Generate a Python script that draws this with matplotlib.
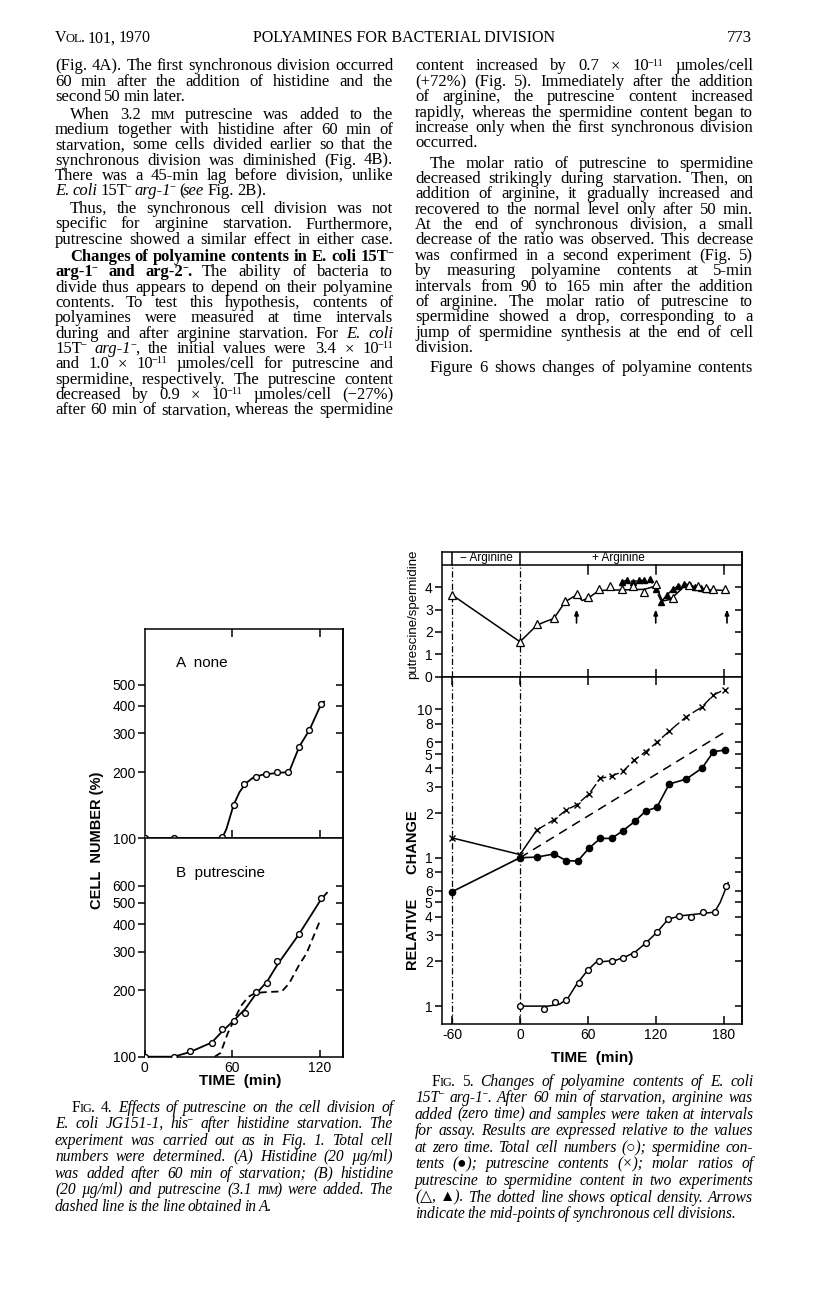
import matplotlib
matplotlib.use("Agg")
import matplotlib.pyplot as plt
from matplotlib.ticker import NullLocator

plt.rcParams['font.family'] = ['Liberation Sans', 'DejaVu Sans']
plt.rcParams['axes.linewidth'] = 1.1
plt.rcParams['lines.linewidth'] = 1.0

SERIF = ['Liberation Serif', 'DejaVu Sans']

# ---------------- Fig. 4 data (cell number, %) ----------------
f4a_t = [0, 20, 37, 53, 61, 68, 76, 83, 91, 98, 106, 113, 121]
f4a_n = [100, 100, 95, 101, 142, 177, 190, 195, 200, 200, 261, 311, 407]
f4a_curve_t = [0, 53, 56, 61, 65, 69, 74, 80, 90, 99, 106, 113, 121, 123]
f4a_curve_n = [100, 100, 110, 142, 162, 177, 188, 194, 198, 200, 261, 311, 407, 418]

f4b_t = [0, 20, 31, 46, 53, 61, 69, 76, 84, 91, 106, 121]
f4b_n = [100, 100, 106, 116, 134, 145, 158, 197, 217, 273, 360, 526]
f4b_curve_t = [0, 20, 31, 46, 53, 61, 69, 76, 84, 91, 106, 121, 125]
f4b_curve_n = [100, 100, 105, 116, 130, 146, 165, 192, 220, 262, 362, 520, 556]
f4b_dash_t = [48, 52, 57, 62, 66, 71, 76, 85, 94, 99, 106, 111, 120]
f4b_dash_n = [100, 104, 128, 150, 170, 187, 195, 197, 198, 215, 262, 295, 412]

# ---------------- Fig. 5 data ----------------
ratio1_t = [-60, 0, 15, 30, 40, 50, 60, 70, 80, 90, 100, 110, 120, 135, 149, 157, 164, 171, 181]
ratio1_v = [3.65, 1.56, 2.35, 2.6, 3.4, 3.69, 3.54, 3.9, 4.06, 3.9, 4.06, 3.8, 4.15, 3.5, 4.09, 4.03, 3.97, 3.92, 3.9]
ratio1_curve_t = [-60, 0, 15, 22, 30, 40, 50, 55, 60, 70, 110, 120, 126, 133, 145, 160, 181]
ratio1_curve_v = [3.65, 1.56, 2.3, 2.45, 2.6, 3.35, 3.65, 3.4, 3.5, 3.85, 3.9, 4.05, 3.38, 3.45, 4.02, 3.9, 3.85]
ratio2_t = [90, 95, 100, 105, 110, 115, 120, 125, 130, 135, 140, 145, 150, 155, 160, 165]
ratio2_v = [4.25, 4.3, 4.25, 4.3, 4.3, 4.35, 3.9, 3.35, 3.65, 3.9, 4.05, 4.15, 4.1, 4.0, 3.95, 3.9]
arrow_t = [50, 120, 183]

putr_t = [-60, 0, 15, 30, 41, 50, 61, 71, 81, 91, 101, 111, 121, 132, 147, 161, 171, 181]
putr_v = [1.36, 1.05, 1.54, 1.8, 2.1, 2.27, 2.69, 3.43, 3.55, 3.82, 4.55, 5.18, 5.99, 7.14, 8.91, 10.4, 12.5, 13.6]
sperm_t = [-60, 0, 15, 30, 41, 51, 61, 71, 81, 91, 102, 111, 121, 132, 147, 161, 171, 181]
sperm_v = [0.59, 1.0, 1.01, 1.06, 0.955, 0.95, 1.16, 1.35, 1.35, 1.52, 1.77, 2.06, 2.19, 3.14, 3.39, 4.02, 5.18, 5.32]
od_t = [0, 184]
od_v = [1.0, 7.25]
cells_t = [0, 21, 31, 41, 52, 60, 70, 81, 91, 101, 111, 121, 131, 141, 151, 162, 172, 182]
cells_v = [0.1, 0.095, 0.107, 0.11, 0.144, 0.175, 0.2, 0.2, 0.212, 0.224, 0.265, 0.314, 0.385, 0.407, 0.397, 0.431, 0.431, 0.648]
cells_curve_t = [0, 25, 35, 42, 50, 60, 67, 75, 85, 95, 102, 111, 121, 131, 141, 172, 177, 184]
cells_curve_v = [0.1, 0.1, 0.103, 0.112, 0.14, 0.175, 0.197, 0.2, 0.204, 0.218, 0.232, 0.265, 0.314, 0.385, 0.405, 0.43, 0.5, 0.68]

rel_ticks = [0.1, 0.2, 0.3, 0.4, 0.5, 0.6, 0.8, 1, 2, 3, 4, 5, 6, 8, 10]
rel_labels = ['1', '2', '3', '4', '5', '6', '8', '1', '2', '3', '4', '5', '6', '8', '10']

# ---------------- page text ----------------
# markup: _italic_  *bold*  ~small caps~  ^superscript^
left_lines = [
    "(Fig. 4A). The first synchronous division occurred",
    "60 min after the addition of histidine and the",
    "second 50 min later.",
    "When 3.2 m~M~ putrescine was added to the",
    "medium together with histidine after 60 min of",
    "starvation, some cells divided earlier so that the",
    "synchronous division was diminished (Fig. 4B).",
    "There was a 45-min lag before division, unlike",
    "_E. coli_ 15T^−^ _arg-1_^−^ (_see_ Fig. 2B).",
    "Thus, the synchronous cell division was not",
    "specific for arginine starvation. Furthermore,",
    "putrescine showed a similar effect in either case.",
    "*Changes of polyamine contents in E. coli 15T^−^*",
    "*arg-1^−^ and arg-2^−^.* The ability of bacteria to",
    "divide thus appears to depend on their polyamine",
    "contents. To test this hypothesis, contents of",
    "polyamines were measured at time intervals",
    "during and after arginine starvation. For _E. coli_",
    "15T^−^ _arg-1_^−^, the initial values were 3.4 × 10^−11^",
    "and 1.0 × 10^−11^ µmoles/cell for putrescine and",
    "spermidine, respectively. The putrescine content",
    "decreased by 0.9 × 10^−11^ µmoles/cell (−27%)",
    "after 60 min of starvation, whereas the spermidine",
]
left_y = [66, 81.4, 96.7, 114.1, 129.5, 144.8, 160.2, 175.5, 190.9, 208.3, 223.7, 239.0,
          256.4, 271.8, 287.1, 302.5, 317.8, 333.2, 348.6, 363.9, 379.3, 394.6, 410.0]
left_indent = {3, 9, 12}
left_ragged = {2, 8}

right_lines = [
    "content increased by 0.7 × 10^−11^ µmoles/cell",
    "(+72%) (Fig. 5). Immediately after the addition",
    "of arginine, the putrescine content increased",
    "rapidly, whereas the spermidine content began to",
    "increase only when the first synchronous division",
    "occurred.",
    "The molar ratio of putrescine to spermidine",
    "decreased strikingly during starvation. Then, on",
    "addition of arginine, it gradually increased and",
    "recovered to the normal level only after 50 min.",
    "At the end of synchronous division, a small",
    "decrease of the ratio was observed. This decrease",
    "was confirmed in a second experiment (Fig. 5)",
    "by measuring polyamine contents at 5-min",
    "intervals from 90 to 165 min after the addition",
    "of arginine. The molar ratio of putrescine to",
    "spermidine showed a drop, corresponding to a",
    "jump of spermidine synthesis at the end of cell",
    "division.",
    "Figure 6 shows changes of polyamine contents",
]
right_y = [66, 81.4, 96.7, 112.1, 127.4, 142.8, 163.2, 178.6, 193.9, 209.3, 224.6, 240.0,
           255.4, 270.7, 286.1, 301.4, 316.8, 332.2, 347.5, 368.0]
right_indent = {6, 19}
right_ragged = {5, 18}

cap4_lines = [
    "_F~IG~. 4._ Effects of putrescine on the cell division of",
    "E. coli JG151-1, his^−^ after histidine starvation. The",
    "experiment was carried out as in Fig. 1. Total cell",
    "numbers were determined. (A) Histidine (20 µg/ml)",
    "was added after 60 min of starvation; (B) histidine",
    "(20 µg/ml) and putrescine (3.1 m~M~) were added. The",
    "dashed line is the line obtained in A.",
]
cap4_y = [1107, 1123.6, 1140.2, 1156.8, 1173.4, 1190, 1206.6]

cap5_lines = [
    "_F~IG~. 5._ Changes of polyamine contents of E. coli",
    "15T^−^ arg-1^−^. After 60 min of starvation, arginine was",
    "added (zero time) and samples were taken at intervals",
    "for assay. Results are expressed relative to the values",
    "at zero time. Total cell numbers (○); spermidine con-",
    "tents (●); putrescine contents (×); molar ratios of",
    "putrescine to spermidine content in two experiments",
    "(△, ▲). The dotted line shows optical density. Arrows",
    "indicate the mid-points of synchronous cell divisions.",
]
cap5_y = [1081, 1097.6, 1114.2, 1130.8, 1147.4, 1164, 1180.6, 1197.2, 1213.8]

W, H = 816, 1302
fig = plt.figure(figsize=(W / 100, H / 100), dpi=100)
page = fig.add_axes([0, 0, 1, 1])
page.set_xlim(0, W)
page.set_ylim(H, 0)
page.axis('off')
renderer = fig.canvas.get_renderer()


def parse(line, italic=False):
    words, cur, buf = [], [], ''
    st = {'_': italic, '*': False, '~': False, '^': False}
    for ch in line:
        if ch in ' _*~^':
            if buf:
                cur.append((buf, st['_'], st['*'], st['~'], st['^']))
                buf = ''
            if ch == ' ':
                if cur:
                    words.append(cur)
                cur = []
            else:
                st[ch] = not st[ch]
        else:
            buf += ch
    if buf:
        cur.append((buf, st['_'], st['*'], st['~'], st['^']))
    if cur:
        words.append(cur)
    return words


def put_line(x0, x1, y, line, size=12, justify=True, italic=False):
    words = parse(line, italic)
    for attempt in range(8):
        items = []
        for w in words:
            segs = []
            for text, it, bf, sc, sup in w:
                fs = size * (0.78 if sc else 1.0) * (0.62 if sup else 1.0)
                rise = 0.30 * size * 100 / 72 if sup else 0.0
                t = page.text(0, y + 4.5 - rise, text, fontsize=fs,
                              fontstyle='italic' if it else 'normal',
                              fontweight='bold' if bf else 'normal',
                              family=SERIF, va='baseline', ha='left')
                segs.append((t, t.get_window_extent(renderer).width - 1.2))
            items.append(segs)
        widths = [sum(wd for _, wd in s) for s in items]
        space = 0.25 * size * 100 / 72
        total = sum(widths)
        if total + 0.6 * space * (len(items) - 1) <= (x1 - x0) or not justify:
            break
        for s in items:
            for t, _ in s:
                t.remove()
        size *= 0.98
    gap = (x1 - x0 - total) / (len(items) - 1) if justify and len(items) > 1 else space
    x = x0
    for segs in items:
        for t, wd in segs:
            t.set_x(x)
            x += wd
        x += gap


# running head
put_line(55, 200, 38, "V~OL~. 101, 1970", size=11.5, justify=False)
page.text(404, 42.5, "POLYAMINES FOR BACTERIAL DIVISION", fontsize=11.5, family=SERIF,
          ha='center', va='baseline')
page.text(752, 42.5, "773", fontsize=12, family=SERIF, ha='right', va='baseline')

for i, (ln, y) in enumerate(zip(left_lines, left_y)):
    put_line(55 + (15 if i in left_indent else 0), 392, y, ln, justify=i not in left_ragged)
for i, (ln, y) in enumerate(zip(right_lines, right_y)):
    put_line(415 + (15 if i in right_indent else 0), 752, y, ln, justify=i not in right_ragged)
for i, (ln, y) in enumerate(zip(cap4_lines, cap4_y)):
    put_line(72 if i == 0 else 55, 392, y, ln, size=11.2, italic=True,
             justify=i != len(cap4_lines) - 1)
for i, (ln, y) in enumerate(zip(cap5_lines, cap5_y)):
    put_line(432 if i == 0 else 415, 752, y, ln, size=11.2, italic=True,
             justify=i != len(cap5_lines) - 1)


def px_axes(x0, y0, x1, y1):
    return fig.add_axes([x0 / W, 1 - y1 / H, (x1 - x0) / W, (y1 - y0) / H])


def right_ticks(ax, ticks, length=5):
    sec = ax.secondary_yaxis('right')
    sec.set_yticks(ticks)
    sec.yaxis.set_minor_locator(NullLocator())
    sec.tick_params(direction='in', length=length, width=1.1, labelright=False)


# ---------------- Fig. 4 ----------------
open_o = dict(marker='o', ms=4.2, mfc='white', mec='black', mew=1.0, ls='none', zorder=4)

ax4a = px_axes(144.7, 629, 343, 838.3)
ax4a.set_yscale('log')
ax4a.set_xlim(0, 136)
ax4a.set_ylim(100, 894)
ax4a.plot(f4a_curve_t, f4a_curve_n, color='black', lw=1.3)
ax4a.plot(f4a_t, f4a_n, **open_o)
ax4a.set_yticks([100, 200, 300, 400, 500], labels=['100', '200', '300', '400', '500'])
ax4a.yaxis.set_minor_locator(NullLocator())
ax4a.tick_params(axis='y', direction='out', length=5, width=1.1, pad=1.5, labelsize=10)
ax4a.set_xticks([60, 120])
ax4a.tick_params(axis='x', direction='in', top=True, bottom=True, length=6, width=1.1,
                 labelbottom=False)
right_ticks(ax4a, [200, 300, 400, 500])
ax4a.text(176, 663, "A  none", fontsize=11, va='center', transform=page.transData)

ax4b = px_axes(144.7, 838.3, 343, 1056.7)
ax4b.set_yscale('log')
ax4b.set_xlim(0, 136)
ax4b.set_ylim(100, 984)
ax4b.plot(f4b_curve_t, f4b_curve_n, color='black', lw=1.3)
ax4b.plot(f4b_dash_t, f4b_dash_n, color='black', lw=1.3, ls=(0, (4, 2.5)))
ax4b.plot(f4b_t, f4b_n, **open_o)
ax4b.set_yticks([100, 200, 300, 400, 500, 600],
                labels=['100', '200', '300', '400', '500', '600'])
ax4b.yaxis.set_minor_locator(NullLocator())
ax4b.tick_params(axis='y', direction='out', length=5, width=1.1, pad=1.5, labelsize=10)
ax4b.set_xticks([0, 60, 120], labels=['0', '60', '120'])
ax4b.tick_params(axis='x', direction='in', length=5, width=1.1, pad=3, labelsize=10)
right_ticks(ax4b, [200, 300, 400, 500, 600])
ax4b.text(176, 873, "B  putrescine", fontsize=11, va='center', transform=page.transData)

page.text(97, 840, "CELL  NUMBER (%)", fontsize=10.5, fontweight='bold', rotation=90,
          ha='center', va='center')
page.text(240, 1081, "TIME  (min)", fontsize=11, fontweight='bold', ha='center', va='center')

# ---------------- Fig. 5 ----------------
XL = (-69.2, 196.0)
dashdot = (0, (5, 2, 1, 2))

ax5a = px_axes(441.7, 552, 741.7, 676.7)
ax5a.set_xlim(*XL)
ax5a.set_ylim(0, 5.567)
ax5a.axhline(5, color='black', lw=1.1)
for tv in [-60, 0]:
    ax5a.plot([tv, tv], [0, 5], color='black', lw=0.9, ls=dashdot)
    ax5a.plot([tv, tv], [5, 5.567], color='black', lw=1.1)
for tv in [60, 120, 180]:
    ax5a.plot([tv, tv], [5, 4.6], color='black', lw=1.1)
ax5a.text(-30, 5.28, "− Arginine", fontsize=8.5, ha='center', va='center')
ax5a.text(87, 5.28, "+ Arginine", fontsize=8.5, ha='center', va='center')
ax5a.plot(ratio1_curve_t, ratio1_curve_v, color='black', lw=1.1)
ax5a.plot(ratio2_t, ratio2_v, color='black', lw=1.1, ls=(0, (4, 2)))
ax5a.plot(ratio2_t, ratio2_v, marker='^', ms=4.8, color='black', ls='none', zorder=4)
ax5a.plot(ratio1_t, ratio1_v, marker='^', ms=5.5, mfc='white', mec='black', mew=0.9,
          ls='none', zorder=5)
for tv in arrow_t:
    ax5a.annotate('', xy=(tv, 3.0), xytext=(tv, 2.4),
                  arrowprops=dict(arrowstyle='-|>,head_length=0.3,head_width=0.12',
                                  color='black', lw=1.2, shrinkA=0, shrinkB=0))
ax5a.set_yticks([0, 1, 2, 3, 4], labels=['0', '1', '2', '3', '4'])
ax5a.tick_params(axis='y', direction='out', length=5, width=1.1, pad=1.5, labelsize=10)
ax5a.set_xticks([60, 120, 180])
ax5a.tick_params(axis='x', direction='in', length=6, width=1.1, labelbottom=False)
right_ticks(ax5a, [1, 2, 3, 4])

ax5b = px_axes(441.7, 676.7, 741.7, 1024.3)
ax5b.set_yscale('log')
ax5b.set_xlim(*XL)
ax5b.set_ylim(0.0754, 16.6)
for tv in [-60, 0]:
    ax5b.axvline(tv, color='black', lw=0.9, ls=dashdot)
ax5b.plot(od_t, od_v, color='black', lw=1.1, ls=(0, (6, 4)))
ax5b.plot(putr_t[:3], putr_v[:3], color='black', lw=1.1)
ax5b.plot(putr_t[2:], putr_v[2:], color='black', lw=1.0, ls=(0, (7, 2.5)))
ax5b.plot(putr_t, putr_v, marker='x', ms=4, mew=1.0, color='black', ls='none', zorder=4)
ax5b.plot(sperm_t, sperm_v, color='black', lw=1.2, marker='o', ms=4.5, zorder=4)
ax5b.plot(cells_curve_t, cells_curve_v, color='black', lw=1.1)
ax5b.plot(cells_t, cells_v, **open_o)
ax5b.set_yticks(rel_ticks, labels=rel_labels)
ax5b.yaxis.set_minor_locator(NullLocator())
ax5b.tick_params(axis='y', direction='out', length=5, width=1.1, pad=1.5, labelsize=10)
ax5b.set_xticks([-60, 0, 60, 120, 180], labels=['-60', '0', '60', '120', '180'])
ax5b.tick_params(axis='x', direction='in', top=True, length=6, width=1.1, pad=3, labelsize=10)
right_ticks(ax5b, rel_ticks)

page.text(413, 614, "putrescine/spermidine", fontsize=9.5, rotation=90, ha='center', va='center')
page.text(413, 890, "RELATIVE      CHANGE", fontsize=10.5, fontweight='bold', rotation=90,
          ha='center', va='center')
page.text(591.7, 1058, "TIME  (min)", fontsize=11, fontweight='bold', ha='center', va='center')

fig.savefig("out.png", dpi=100)
